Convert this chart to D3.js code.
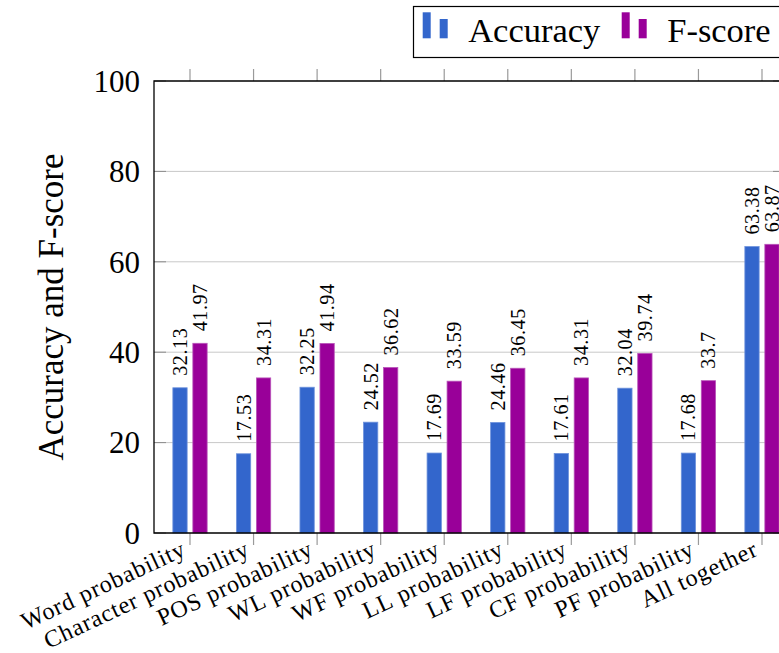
<!DOCTYPE html>
<html>
<head>
<meta charset="utf-8">
<script src="https://cdn.jsdelivr.net/npm/d3@7"></script>
<style>
  html, body { margin: 0; padding: 0; background: #fff; }
  svg { display: block; }
  text { font-family: "Liberation Serif", "DejaVu Serif", serif; fill: #000; }
</style>
</head>
<body>
<svg id="chart" width="779" height="653"></svg>
<script>
// Feature groups on the x axis
const categories = [
  "Word probability", "Character probability", "POS probability",
  "WL probability", "WF probability", "LL probability",
  "LF probability", "CF probability", "PF probability", "All together"
];
// Series values (percent)
const accuracy = [32.13, 17.53, 32.25, 24.52, 17.69, 24.46, 17.61, 32.04, 17.68, 63.38];
const fscore   = [41.97, 34.31, 41.94, 36.62, 33.59, 36.45, 34.31, 39.74, 33.7, 63.87];
const seriesNames = ["Accuracy", "F-score"];
const yTicks = [0, 20, 40, 60, 80, 100];

const colors = { "Accuracy": "#3366cc", "F-score": "#990099" };
const strokes = { "Accuracy": "#6f93dc", "F-score": "#b955b9" };

const svg = d3.select("#chart");

// Plot frame
const frame = { left: 154, right: 785, top: 81, bottom: 533 };

const x = d3.scalePoint().domain(categories).range([190, 762]);
const y = d3.scaleLinear().domain([0, 100]).range([frame.bottom, frame.top]);

const barW = 14.3, barOff = 10;
const offsets = { "Accuracy": -barOff, "F-score": barOff };

// Horizontal grid lines
svg.append("g")
  .selectAll("line")
  .data(yTicks.filter(t => t > 0 && t < 100))
  .join("line")
  .attr("x1", frame.left).attr("x2", frame.right)
  .attr("y1", d => y(d)).attr("y2", d => y(d))
  .attr("stroke", "#c8c8c8").attr("stroke-width", 1);

// Left and right inner y ticks
const yTickG = svg.append("g").attr("stroke", "#8c8c8c").attr("stroke-width", 1);
yTickG.selectAll("line.l").data(yTicks).join("line").attr("class", "l")
  .attr("x1", frame.left).attr("x2", frame.left + 12)
  .attr("y1", d => y(d)).attr("y2", d => y(d));
yTickG.selectAll("line.r").data(yTicks).join("line").attr("class", "r")
  .attr("x1", frame.right - 12).attr("x2", frame.right)
  .attr("y1", d => y(d)).attr("y2", d => y(d));

// X ticks below and above the frame
const xTickG = svg.append("g").attr("stroke", "#9a9a9a").attr("stroke-width", 1.2);
xTickG.selectAll("line.b").data(categories).join("line").attr("class", "b")
  .attr("x1", d => x(d)).attr("x2", d => x(d))
  .attr("y1", frame.bottom).attr("y2", frame.bottom + 12);
xTickG.selectAll("line.t").data(categories).join("line").attr("class", "t")
  .attr("x1", d => x(d)).attr("x2", d => x(d))
  .attr("y1", frame.top - 12).attr("y2", frame.top);

// Bars
const rows = categories.map((c, i) => ({ c, vals: [
  { s: "Accuracy", v: accuracy[i] }, { s: "F-score", v: fscore[i] }
]}));

const groups = svg.append("g").selectAll("g").data(rows).join("g")
  .attr("transform", d => `translate(${x(d.c)},0)`);

groups.selectAll("rect").data(d => d.vals).join("rect")
  .attr("x", d => offsets[d.s] - barW / 2)
  .attr("width", barW)
  .attr("y", d => y(d.v))
  .attr("height", d => y(0) - y(d.v))
  .attr("fill", d => colors[d.s])
  .attr("stroke", d => strokes[d.s])
  .attr("stroke-width", 0.8);

// Value labels above bars, rotated
groups.selectAll("text").data(d => d.vals).join("text")
  .attr("transform", d => `translate(${offsets[d.s]},${y(d.v) - 12}) rotate(-90)`)
  .attr("dy", "0.35em")
  .attr("text-anchor", "start")
  .style("font-size", "20px")
  .style("letter-spacing", "0.6px")
  .text(d => String(d.v));

// Frame border
svg.append("path")
  .attr("d", `M${frame.right},${frame.top}H${frame.left}V${frame.bottom}H${frame.right}Z`)
  .attr("fill", "none").attr("stroke", "#000").attr("stroke-width", 1.3);

// Y tick labels
svg.append("g").selectAll("text").data(yTicks).join("text")
  .attr("x", 140).attr("y", d => y(d))
  .attr("dy", "0.35em")
  .attr("text-anchor", "end")
  .style("font-size", "31px")
  .text(d => d);

// X tick labels, rotated
svg.append("g").selectAll("text").data(categories).join("text")
  .attr("transform", d => `translate(${x(d) - 6},${frame.bottom + 14}) rotate(-25)`)
  .attr("dy", "0.35em")
  .attr("text-anchor", "end")
  .style("font-size", "24px")
  .style("letter-spacing", "0.9px")
  .text(d => d);

// Y axis title
svg.append("text")
  .attr("transform", `translate(63,307) rotate(-90)`)
  .attr("text-anchor", "middle")
  .style("font-size", "35px")
  .text("Accuracy and F-score");

// Legend
const legend = svg.append("g");
legend.append("rect")
  .attr("x", 413.5).attr("y", 6.5).attr("width", 400).attr("height", 51)
  .attr("fill", "#fff").attr("stroke", "#000").attr("stroke-width", 1.2);
const legendX = { "Accuracy": 422.7, "F-score": 621.7 };
const items = legend.selectAll("g.item").data(seriesNames).join("g").attr("class", "item")
  .attr("transform", d => `translate(${legendX[d]},0)`);
items.append("rect").attr("x", 0).attr("y", 12.3).attr("width", 8).attr("height", 26)
  .attr("fill", d => colors[d]);
items.append("rect").attr("x", 17).attr("y", 19).attr("width", 8).attr("height", 19.3)
  .attr("fill", d => colors[d]);
items.append("text").attr("x", 45.5).attr("y", 42)
  .style("font-size", "34.5px")
  .text(d => d);
</script>
</body>
</html>
